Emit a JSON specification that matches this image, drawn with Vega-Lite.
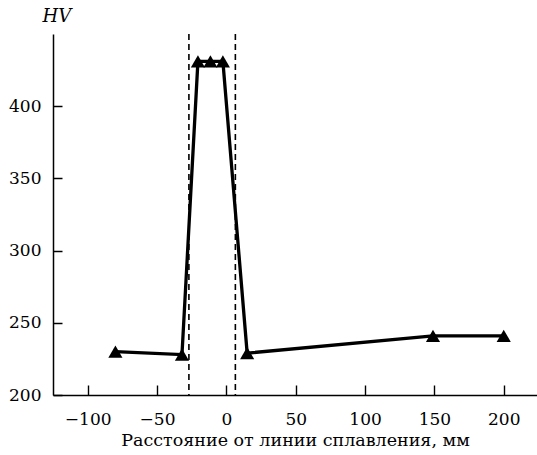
{
  "$schema": "https://vega.github.io/schema/vega-lite/v6.json",
  "autosize": "none",
  "width": 484,
  "height": 361,
  "padding": {"left": 53, "top": 34, "right": 0, "bottom": 60},
  "background": "white",
  "config": {
    "view": {"stroke": null},
    "axis": {
      "grid": false,
      "ticks": true,
      "domainColor": "black",
      "tickColor": "black",
      "tickOpacity": 1,
      "labelColor": "black",
      "titleColor": "black",
      "labelFont": "DejaVu Serif",
      "titleFont": "DejaVu Serif",
      "labelFontSize": 17,
      "titleFontSize": 17.5,
      "titleFontWeight": "normal"
    }
  },
  "datasets": {
    "pts": [
      {"d": -80, "hv": 230},
      {"d": -32, "hv": 228},
      {"d": -20.5, "hv": 431},
      {"d": -11.5, "hv": 431},
      {"d": -2.5, "hv": 431},
      {"d": 15, "hv": 229},
      {"d": 149, "hv": 241},
      {"d": 200, "hv": 241}
    ],
    "bounds": [
      {"b": -27},
      {"b": 6.5}
    ]
  },
  "layer": [
    {
      "data": {"name": "bounds"},
      "mark": {"type": "rule", "color": "black", "strokeWidth": 1.6, "strokeDash": [6, 4]},
      "encoding": {
        "x": {"field": "b", "type": "quantitative", "scale": {"domain": [-125, 224], "nice": false, "zero": false},
          "axis": {
            "values": [-100, -50, 0, 50, 100, 150, 200],
            "format": "d",
            "ticks": true,
            "domainWidth": 1.4,
            "tickWidth": 1.4,
            "tickSize": -10,
            "labelPadding": 26,
            "title": "Расстояние от линии сплавления, мм",
            "titlePadding": 4
          }
        }
      }
    },
    {
      "data": {"name": "pts"},
      "mark": {"type": "line", "color": "black", "strokeWidth": 3.3},
      "encoding": {
        "x": {"field": "d", "type": "quantitative"},
        "y": {"field": "hv", "type": "quantitative", "scale": {"domain": [200, 450], "nice": false, "zero": false},
          "axis": {
            "values": [200, 250, 300, 350, 400],
            "ticks": true,
            "domainWidth": 1.5,
            "tickWidth": 1.5,
            "tickSize": -9,
            "labelPadding": 21,
            "title": "HV",
            "titleFontStyle": "italic",
            "titleFontSize": 18,
            "titleAngle": 0,
            "titleAlign": "left",
            "titleBaseline": "bottom",
            "titleX": -11,
            "titleY": -9
          }
        }
      }
    },
    {
      "data": {"name": "pts"},
      "mark": {"type": "point", "shape": "triangle-up", "filled": true, "color": "black", "opacity": 1, "size": 200},
      "encoding": {
        "x": {"field": "d", "type": "quantitative"},
        "y": {"field": "hv", "type": "quantitative"}
      }
    },
    {
      "mark": {"type": "rule", "color": "black", "strokeWidth": 2.5},
      "encoding": {
        "y": {"datum": 450}
      }
    }
  ]
}
